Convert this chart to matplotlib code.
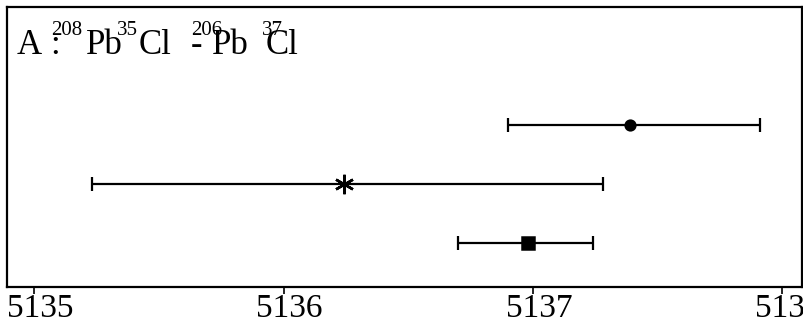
import numpy as np
import matplotlib
matplotlib.use("Agg")
import matplotlib.pyplot as plt
import matplotlib.transforms as mtransforms

plt.rcParams['font.family'] = ['Liberation Serif', 'DejaVu Serif']

# measurements (top to bottom)
rows = [3, 2, 1]
centers = [5137.39, 5136.24, 5136.98]
lows = [5136.90, 5135.23, 5136.70]
highs = [5137.91, 5137.28, 5137.24]
markers = ['o', (6, 2, 0), 's']
msizes = [7, 14, 8]

xticks = [5135, 5136, 5137, 5138]

fig = plt.figure(figsize=(8.04, 3.35), dpi=100)
ax = fig.add_axes([0.0087, 0.1433, 0.989, 0.836])

for y, c, lo, hi, m, ms in zip(rows, centers, lows, highs, markers, msizes):
    ax.errorbar([c], [y], xerr=[[c - lo], [hi - c]], fmt='none', ecolor='black',
                elinewidth=1.6, capsize=5, capthick=1.6)
    ax.plot([c], [y], marker=m, color='black', markersize=ms,
            markeredgewidth=1.8, linestyle='none')

ax.set_xlim(5134.89, 5138.08)
ax.set_ylim(0.25, 5.0)
ax.set_yticks([])
ax.set_xticks(xticks)
ax.set_xticklabels([str(t) for t in xticks], fontsize=24)
ax.tick_params(axis='x', direction='out', length=5, width=1.2, pad=0)
# labels sit a little right of their ticks in the original
shift = mtransforms.ScaledTranslation(6 / 100, 0, fig.dpi_scale_trans)
for lab in ax.get_xticklabels():
    lab.set_transform(lab.get_transform() + shift)
for s in ax.spines.values():
    s.set_linewidth(1.6)

# label  A : 208Pb35Cl - 206Pb37Cl
big = 25
small = 15
base = 335 - 54
sup = 335 - 35
parts = [
    (17, base, 'A', big),
    (50, base, ':', big),
    (86, base, 'Pb', big),
    (139, base, 'Cl', big),
    (191, base, '-', big),
    (212, base, 'Pb', big),
    (266, base, 'Cl', big),
    (51, sup, '208', small),
    (117, sup, '35', small),
    (191, sup, '206', small),
    (262, sup, '37', small),
]
for x, y, s, fs in parts:
    ax.annotate(s, xy=(x, y), xycoords='figure pixels', fontsize=fs,
                ha='left', va='baseline')

fig.savefig('out.png', dpi=100)
